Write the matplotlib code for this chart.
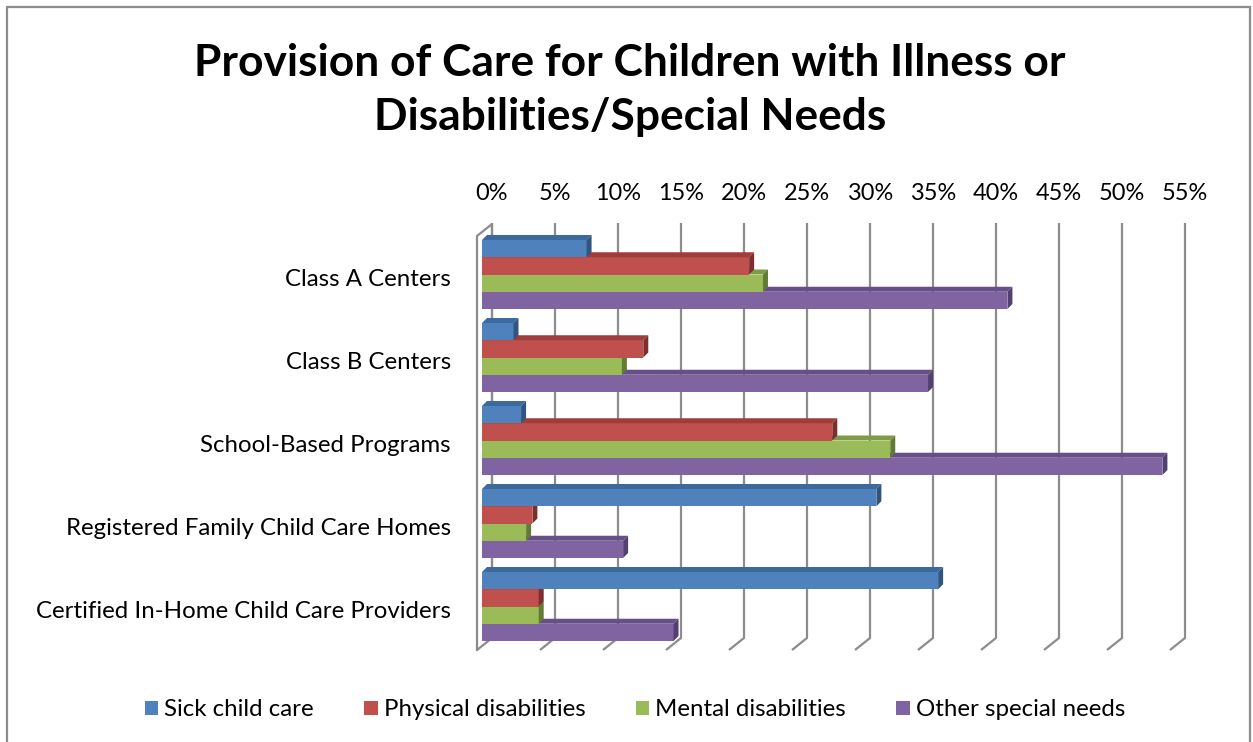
import matplotlib
matplotlib.use("Agg")
import matplotlib.pyplot as plt
from matplotlib.patches import Polygon, Rectangle, Patch
from matplotlib.transforms import ScaledTranslation
import numpy as np

# ---------------- data ----------------
categories = ["Class A Centers", "Class B Centers", "School-Based Programs",
              "Registered Family Child Care Homes", "Certified In-Home Child Care Providers"]
series_names = ["Sick child care", "Physical disabilities", "Mental disabilities", "Other special needs"]
sick_child_care = [8.3, 2.5, 3.1, 31.3, 36.2]
physical_disabilities = [21.2, 12.8, 27.8, 4.0, 4.5]
mental_disabilities = [22.3, 11.1, 32.4, 3.5, 4.5]
other_special_needs = [41.7, 35.4, 54.0, 11.2, 15.2]
x_ticks = [0, 5, 10, 15, 20, 25, 30, 35, 40, 45, 50, 55]
x_tick_labels = [f"{t}%" for t in x_ticks]
title = "Provision of Care for Children with Illness or\nDisabilities/Special Needs"

series = [sick_child_care, physical_disabilities, mental_disabilities, other_special_needs]
face_colors = ["#4F81BD", "#C0504D", "#9BBB59", "#8064A2"]
top_colors = ["#3D6A9E", "#9E3D3B", "#7E9C45", "#675087"]
side_colors = ["#2F5580", "#7E2F2D", "#637C34", "#524070"]

FONT = "Lato"
W, H = 1253, 742
DPI = 100
fig = plt.figure(figsize=(W / DPI, H / DPI), dpi=DPI)
fig.patch.set_facecolor("white")

# axes pixel box
L, R, T, B = 460, 1200, 215, 660
X0PX, PXPCT = 482.0, 12.6      # x pixel of 0 %, pixels per percent
Y0PX, PXCAT = 274.5, 83.0      # y pixel of first category centre, pixels per category

ax = fig.add_axes([L / W, 1 - B / H, (R - L) / W, (B - T) / H])
ax.set_xlim((L - X0PX) / PXPCT, (R - X0PX) / PXPCT)
ax.set_ylim((B - Y0PX) / PXCAT, (T - Y0PX) / PXCAT)
for s in ax.spines.values():
    s.set_visible(False)
ax.set_facecolor("none")

def dx(px):
    return (px - X0PX) / PXPCT

def dy(py):
    return (py - Y0PX) / PXCAT

renderer = fig.canvas.get_renderer()

def fit_size(text, target_px, weight="normal", base=20):
    t = fig.text(0, 0, text, fontsize=base, family=FONT, weight=weight)
    w = t.get_window_extent(renderer).width
    t.remove()
    return base * target_px / w

# ---------------- 3D walls / gridlines ----------------
grid_c = "#8C8C8C"
for k in x_ticks:
    xb = dx(492 + 63 * k / 5)
    xf = dx(477 + 63 * k / 5)
    ax.plot([xb, xb, xf], [dy(223), dy(638), dy(650)], color=grid_c, lw=1.6,
            solid_capstyle="butt", zorder=1)
# left side wall
ax.plot([dx(477), dx(477), dx(492), dx(492)], [dy(650), dy(236), dy(224), dy(638)],
        color=grid_c, lw=1.6, zorder=1)

# ---------------- bars ----------------
group_h = 69.0 / PXCAT
bar_h = group_h / 4
ddx = 5.0 / PXPCT
ddy = 5.0 / PXCAT
ypos = np.arange(len(categories))

for si in reversed(range(len(series))):
    vals = series[si]
    ytops = ypos - group_h / 2 + si * bar_h
    ax.barh(ytops + bar_h / 2, vals, height=bar_h, left=0, color=face_colors[si],
            edgecolor="none", zorder=3)
    for yt, v in zip(ytops, vals):
        yb = yt + bar_h
        top = Polygon([(0, yt), (v, yt), (v + ddx, yt - ddy), (ddx, yt - ddy)],
                      closed=True, facecolor=top_colors[si], edgecolor="none", zorder=3)
        side = Polygon([(v, yt), (v + ddx, yt - ddy), (v + ddx, yb - ddy), (v, yb)],
                       closed=True, facecolor=side_colors[si], edgecolor="none", zorder=3)
        ax.add_patch(top)
        ax.add_patch(side)

# drawing order: later-drawn series on top (blue last)
for i, art in enumerate(ax.patches):
    art.set_zorder(3 + i * 0.001)

# ---------------- ticks ----------------
tick_fs = fit_size("55%", 46)
cat_fs = fit_size("Certified In-Home Child Care Providers", 416)
leg_fs = fit_size("Other special needs", 210)
title_fs = fit_size("Provision of Care for Children with Illness or", 871, weight="bold")

ax.xaxis.tick_top()
ax.set_xticks(x_ticks)
ax.set_xticklabels(x_tick_labels, family=FONT, fontsize=tick_fs)
ax.tick_params(axis="x", length=0, pad=8)
for lab in ax.get_xticklabels():
    lab.set_transform(lab.get_transform() + ScaledTranslation(10 / DPI, 0, fig.dpi_scale_trans))

ax.set_yticks(ypos)
ax.set_yticklabels(categories, family=FONT, fontsize=cat_fs)
ax.tick_params(axis="y", length=0, pad=(L - 451) * 72 / DPI)
for lab in ax.get_yticklabels():
    lab.set_transform(lab.get_transform() + ScaledTranslation(0, -3 / DPI, fig.dpi_scale_trans))

# ---------------- title ----------------
fig.text(630 / W, 1 - 90 / H, title, ha="center", va="center", family=FONT,
         weight="bold", fontsize=title_fs, linespacing=1.42)

# ---------------- legend ----------------
handles = [Patch(facecolor=c, edgecolor="none") for c in face_colors]
fig.legend(handles, series_names, loc="center", bbox_to_anchor=(635 / W, 1 - 710 / H),
           ncol=4, frameon=False, prop={"family": FONT, "size": leg_fs},
           handlelength=0.55, handleheight=0.55, handletextpad=0.25, columnspacing=2.1)

# ---------------- chart border ----------------
fig.add_artist(Rectangle((6.5 / W, -0.05), (1249.5 - 6.5) / W, 1.05 - 7.5 / H,
                         transform=fig.transFigure, fill=False, edgecolor="#8C8C8C", lw=1.6))

fig.savefig("out.png", dpi=DPI)
